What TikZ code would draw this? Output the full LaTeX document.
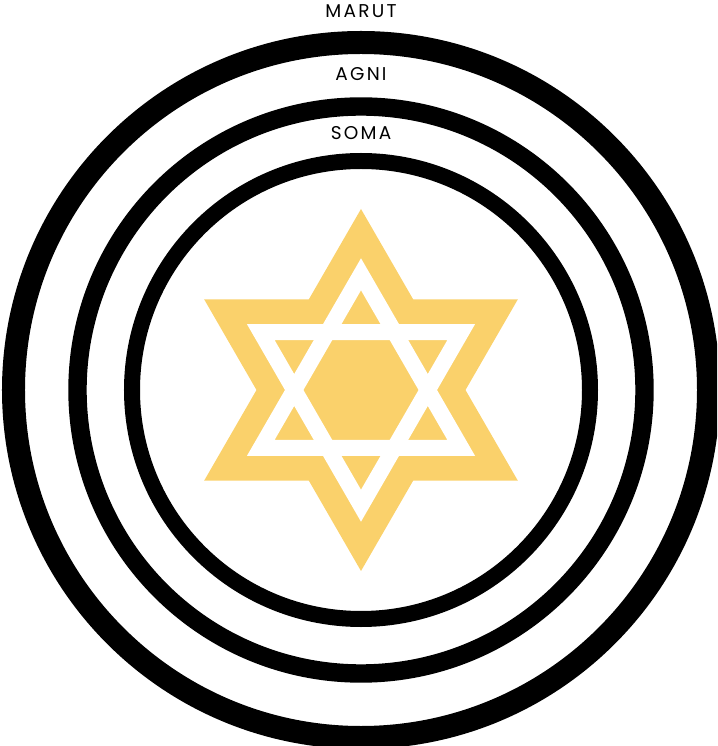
\documentclass[tikz,border=0pt]{standalone}
\usepackage{fontspec}
\setmainfont{Poppins}
\newfontfamily\lblfont[LetterSpace=12]{Poppins}
\usetikzlibrary{positioning}
\definecolor{starfill}{HTML}{FAD16B}

\begin{document}
\begin{tikzpicture}[x=1pt, y=1pt, ring/.style={draw=black, line width=#1},
    lbl/.style={font=\lblfont\fontsize{18.5}{18.5}\selectfont, inner sep=0pt}]
  \useasboundingbox (-361,-356) rectangle (356,390);
  \clip (-361,-356) rectangle (356,390);
  % rings
  \draw[ring=23pt] (0,0) circle (347.5pt);
  \draw[ring=18.4pt] (0,0) circle (283.5pt);
  \draw[ring=16pt] (0,0) circle (229pt);
  \node[lbl] (marut) at (0,379.3){MARUT};
  \node[lbl] (agni) at (0,316.3){AGNI};
  \node[lbl] (soma) at (0,256.7){SOMA};
  % star
  \fill[starfill] (90:181pt) \foreach \a in {0,60,...,300}{ -- (90+\a:181pt) -- (120+\a:104.5pt)} -- cycle;
  \draw[white, line width=16pt, line join=miter] (90:115.7pt) -- (210:115.7pt) -- (330:115.7pt) -- cycle;
  \draw[white, line width=16pt, line join=miter] (270:115.7pt) -- (30:115.7pt) -- (150:115.7pt) -- cycle;
\end{tikzpicture}
\end{document}
